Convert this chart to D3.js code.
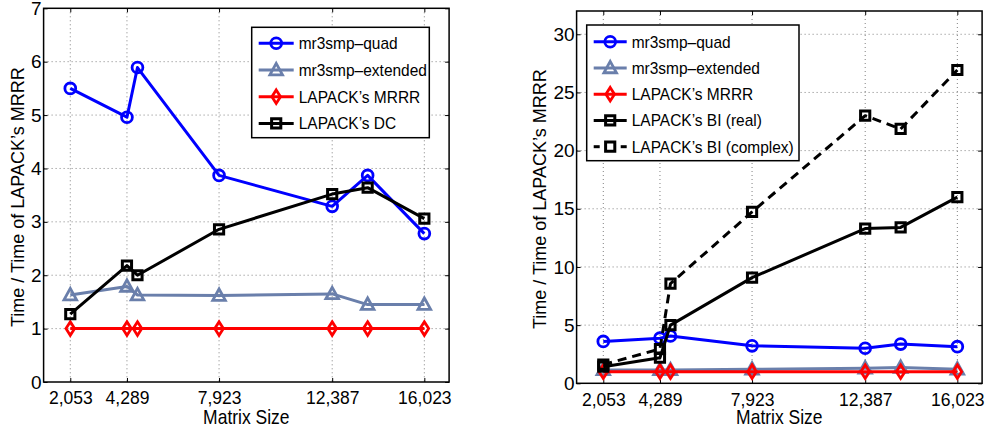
<!DOCTYPE html>
<html>
<head>
<meta charset="utf-8">
<script src="https://cdn.jsdelivr.net/npm/d3@7/dist/d3.min.js"></script>
<style>
  html, body { margin: 0; padding: 0; background: #fff; }
  svg { display: block; font-family: "Liberation Sans", Arial, Helvetica, sans-serif; }
</style>
</head>
<body>
<svg id="chart" width="985" height="428"></svg>
<script>
// Matrix sizes (x values) and the labelled ticks
const sizes = [2053, 4289, 4704, 7923, 12387, 13786, 16023];
const tickSizes = [2053, 4289, 7923, 12387, 16023];

// Left panel: runtime relative to LAPACK's MRRR
const quadLeft = [5.50, 4.96, 5.89, 3.87, 3.29, 3.87, 2.78];
const extLeft = [1.63, 1.79, 1.63, 1.62, 1.65, 1.45, 1.45];
const mrrrLeft = [1, 1, 1, 1, 1, 1, 1];
const dcLeft = [1.27, 2.18, 2.00, 2.86, 3.52, 3.64, 3.06];
const yTicksLeft = [0, 1, 2, 3, 4, 5, 6, 7];

// Right panel: runtime relative to LAPACK's MRRR
const quadRight = [3.60, 3.88, 4.07, 3.22, 3.01, 3.37, 3.15];
const extRight = [1.15, 1.15, 1.15, 1.20, 1.30, 1.35, 1.20];
const mrrrRight = [1, 1, 1, 1, 1, 1, 1];
const biRealRight = [1.43, 2.20, 5.00, 9.08, 13.30, 13.40, 16.00];
const biComplexRight = [1.60, 2.95, 8.57, 14.73, 23.00, 21.86, 26.93];
const yTicksRight = [0, 5, 10, 15, 20, 25, 30];

const svg = d3.select("#chart");

const BLUE = "#0000ff", STEEL = "#6a7fab", RED = "#ff0000", BLACK = "#000000";
const FONT = "Liberation Sans, Arial, sans-serif";

// Marker outlines, centred on the data point
const markers = {
  circle: "M5.4,0A5.4,5.4 0 1,1 -5.4,0A5.4,5.4 0 1,1 5.4,0Z",
  triangle: "M0,-6.6L6.3,4.8L-6.3,4.8Z",
  diamond: "M0,-6.8L4.3,0L0,6.8L-4.3,0Z",
  square: "M-4.6,-4.6L4.6,-4.6L4.6,4.6L-4.6,4.6Z"
};

// Horizontal text drawn slightly taller than wide
function tallText(sel, x, y, size, str, anchor) {
  return sel.append("text")
    .attr("transform", `translate(${x},${y}) scale(1,1.12)`)
    .attr("text-anchor", anchor || "start")
    .attr("font-size", size).text(str);
}

function drawPanel(cfg) {
  const x = d3.scaleLinear().domain([1000, 17000]).range([cfg.left, cfg.right]);
  const y = d3.scaleLinear().domain(cfg.yDomain).range([cfg.bottom, cfg.top]);
  const g = svg.append("g");

  // dotted grid
  g.append("g").selectAll("line").data(cfg.yTicks.filter(t => t > cfg.yDomain[0] && t < cfg.yDomain[1]))
    .join("line")
    .attr("x1", cfg.left).attr("x2", cfg.right)
    .attr("y1", d => y(d)).attr("y2", d => y(d))
    .attr("stroke", "#808080").attr("stroke-width", 1).attr("stroke-dasharray", "1,3");
  g.append("g").selectAll("line").data(tickSizes)
    .join("line")
    .attr("x1", d => x(d)).attr("x2", d => x(d))
    .attr("y1", cfg.top).attr("y2", cfg.bottom)
    .attr("stroke", "#808080").attr("stroke-width", 1).attr("stroke-dasharray", "1,3");

  // axes with inward ticks (bottom/left labelled, top/right mirrored)
  const xAxis = g.append("g").attr("transform", `translate(0,${cfg.bottom})`)
    .call(d3.axisBottom(x).tickValues(tickSizes).tickFormat(d3.format(","))
      .tickSizeInner(-4).tickSizeOuter(0).tickPadding(10));
  xAxis.select(".domain").remove();
  xAxis.selectAll("text").attr("font-size", 17.5).attr("fill", "#000").attr("font-family", FONT);
  const yAxis = g.append("g").attr("transform", `translate(${cfg.left},0)`)
    .call(d3.axisLeft(y).tickValues(cfg.yTicks).tickFormat(d3.format("d"))
      .tickSizeInner(-4).tickSizeOuter(0).tickPadding(2));
  yAxis.select(".domain").remove();
  yAxis.selectAll("text").attr("font-size", 19).attr("fill", "#000").attr("font-family", FONT);
  const xTop = g.append("g").attr("transform", `translate(0,${cfg.top})`)
    .call(d3.axisTop(x).tickValues(tickSizes).tickFormat("").tickSizeInner(-4).tickSizeOuter(0));
  xTop.select(".domain").remove();
  const yRight = g.append("g").attr("transform", `translate(${cfg.right},0)`)
    .call(d3.axisRight(y).tickValues(cfg.yTicks).tickFormat("").tickSizeInner(-4).tickSizeOuter(0));
  yRight.select(".domain").remove();
  g.selectAll(".tick line").attr("stroke", "#000").attr("stroke-width", 1);

  // series lines and markers
  cfg.series.forEach(s => {
    const pts = sizes.map((sz, i) => [x(sz), y(s.values[i])]);
    g.append("path")
      .attr("d", d3.line()(pts))
      .attr("fill", "none").attr("stroke", s.color).attr("stroke-width", 3)
      .attr("stroke-dasharray", s.dash || null)
      .attr("stroke-linejoin", "round");
    g.append("g").selectAll("path").data(pts).join("path")
      .attr("transform", d => `translate(${d[0]},${d[1]})`)
      .attr("d", markers[s.marker])
      .attr("fill", "none").attr("stroke", s.color).attr("stroke-width", s.mw || 2.8);
  });

  // frame
  g.append("rect")
    .attr("x", cfg.left).attr("y", cfg.top)
    .attr("width", cfg.right - cfg.left).attr("height", cfg.bottom - cfg.top)
    .attr("fill", "none").attr("stroke", "#000").attr("stroke-width", 1.5);

  // axis titles
  tallText(g, (cfg.left + cfg.right) / 2, 424, 17.5, "Matrix Size", "middle");
  g.append("text")
    .attr("transform", `translate(${cfg.ylabelX},${(cfg.top + cfg.bottom) / 2 + 2}) rotate(-90)`)
    .attr("text-anchor", "middle").attr("font-size", 18).text("Time / Time of LAPACK\u2019s MRRR");

  // legend
  const L = cfg.legend;
  const lg = g.append("g");
  lg.append("rect")
    .attr("x", L.x).attr("y", L.y).attr("width", L.w).attr("height", L.h)
    .attr("fill", "#fff").attr("stroke", "#000").attr("stroke-width", 1.5);
  cfg.series.forEach((s, i) => {
    const cy = L.y + L.first + i * L.step;
    const x0 = L.x + 7, x1 = L.x + 7 + L.sample;
    const cx = (x0 + x1) / 2;
    if (s.dash) {
      lg.append("line").attr("x1", x0).attr("x2", x0 + 6).attr("y1", cy).attr("y2", cy)
        .attr("stroke", s.color).attr("stroke-width", 3);
      lg.append("line").attr("x1", x1 - 6).attr("x2", x1).attr("y1", cy).attr("y2", cy)
        .attr("stroke", s.color).attr("stroke-width", 3);
    } else {
      lg.append("line").attr("x1", x0).attr("x2", x1).attr("y1", cy).attr("y2", cy)
        .attr("stroke", s.color).attr("stroke-width", 3);
    }
    lg.append("path").attr("transform", `translate(${cx},${cy})`)
      .attr("d", markers[s.marker])
      .attr("fill", "none").attr("stroke", s.color).attr("stroke-width", s.mw || 2.8);
    tallText(lg, x1 + 5, cy + 6, 15.5, s.name);
  });
}

drawPanel({
  left: 43.6, right: 449.1, top: 8.3, bottom: 382,
  yDomain: [0, 7], yTicks: yTicksLeft, ylabelX: 23.5,
  legend: { x: 251.7, y: 27.3, w: 177.6, h: 110.4, first: 16, step: 26.7, sample: 35 },
  series: [
    { name: "mr3smp\u2013quad", values: quadLeft, color: BLUE, marker: "circle" },
    { name: "mr3smp\u2013extended", values: extLeft, color: STEEL, marker: "triangle" },
    { name: "LAPACK\u2019s MRRR", values: mrrrLeft, color: RED, marker: "diamond" },
    { name: "LAPACK\u2019s DC", values: dcLeft, color: BLACK, marker: "square", mw: 3 }
  ]
});

drawPanel({
  left: 576.6, right: 982.1, top: 11, bottom: 383.3,
  yDomain: [0, 32], yTicks: yTicksRight, ylabelX: 546,
  legend: { x: 586.7, y: 25, w: 212.3, h: 135.7, first: 16.7, step: 26.25, sample: 33 },
  series: [
    { name: "mr3smp\u2013quad", values: quadRight, color: BLUE, marker: "circle" },
    { name: "mr3smp\u2013extended", values: extRight, color: STEEL, marker: "triangle" },
    { name: "LAPACK\u2019s MRRR", values: mrrrRight, color: RED, marker: "diamond" },
    { name: "LAPACK\u2019s BI (real)", values: biRealRight, color: BLACK, marker: "square", mw: 3 },
    { name: "LAPACK\u2019s BI (complex)", values: biComplexRight, color: BLACK, marker: "square", mw: 3, dash: "9,6" }
  ]
});
</script>
</body>
</html>
